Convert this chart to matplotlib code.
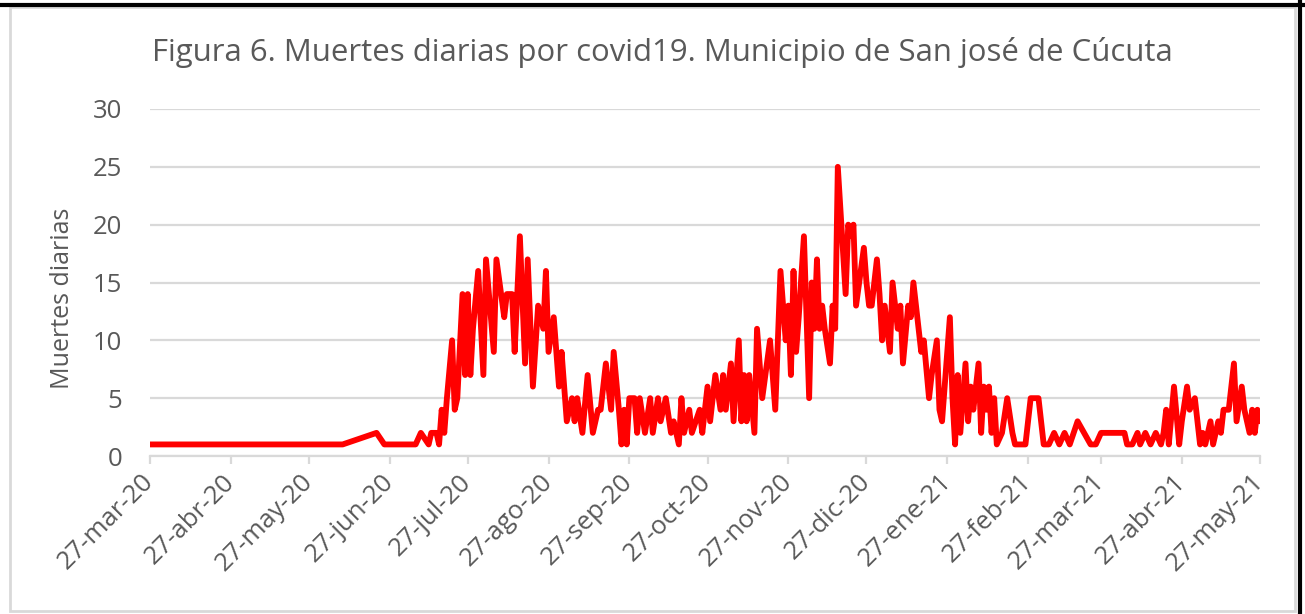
import numpy as np
import matplotlib
matplotlib.use('Agg')
import matplotlib.pyplot as plt
from matplotlib.patches import Rectangle
from matplotlib.lines import Line2D

# datos: dias desde 27-mar-20 y muertes diarias
start = np.datetime64('2020-03-27')
day_offsets = [0, 74, 87, 90, 102, 104, 107, 108, 110, 111, 112, 113, 114, 116, 117, 118,
               120, 121, 122, 123, 124, 126, 128, 129, 132, 133, 136, 137, 139, 140, 142,
               144, 145, 147, 149, 151, 152, 153, 155, 157, 158, 160, 162, 163, 164, 166,
               168, 170, 172, 173, 175, 177, 178, 180, 181, 182, 183, 184, 186, 187, 188,
               190, 192, 193, 195, 196, 198, 200, 201, 203, 204, 205, 207, 208, 211, 212,
               214, 215, 217, 219, 220, 221, 223, 224, 226, 227, 228, 229, 230, 232, 233,
               235, 238, 240, 242, 244, 245, 246, 247, 248, 249, 251, 253, 254, 255, 256,
               257, 258, 259, 261, 262, 263, 264, 267, 268, 269, 270, 271, 274, 275, 276,
               277, 279, 280, 281, 282, 284, 285, 287, 288, 289, 291, 292, 293, 294, 296,
               297, 299, 300, 302, 303, 304, 307, 308, 309, 310, 311, 313, 314, 315, 316,
               318, 319, 320, 321, 322, 323, 324, 325, 327, 329, 331, 332, 336, 338, 341,
               343, 345, 347, 349, 351, 353, 356, 361, 363, 365, 374, 375, 377, 379, 380,
               382, 384, 386, 388, 389, 390, 391, 393, 395, 396, 398, 399, 401, 402, 403,
               404, 405, 407, 408, 410, 411, 412, 414, 416, 417, 419, 420, 422, 423, 424,
               425, 426]
deaths = [1, 1, 2, 1, 1, 2, 1, 2, 2, 1, 4, 2, 5, 10, 4, 5,
          14, 7, 14, 7, 11, 16, 7, 17, 9, 17, 12, 14, 14, 9, 19,
          8, 17, 6, 13, 11, 16, 9, 12, 6, 9, 3, 5, 3, 5, 2,
          7, 2, 4, 4, 8, 4, 9, 4, 1, 4, 1, 5, 5, 2, 5,
          2, 5, 2, 5, 3, 5, 2, 3, 1, 5, 2, 4, 2, 4, 2,
          6, 3, 7, 4, 7, 4, 8, 3, 10, 3, 7, 3, 7, 2, 11,
          5, 10, 4, 16, 10, 13, 7, 16, 9, 12, 19, 5, 15, 11, 17,
          11, 13, 11, 8, 13, 11, 25, 14, 20, 19, 20, 13, 18, 15, 13,
          13, 17, 14, 10, 13, 9, 15, 11, 13, 8, 13, 12, 15, 13, 9,
          10, 5, 7, 10, 4, 3, 12, 5, 1, 7, 2, 8, 3, 6, 4,
          8, 2, 6, 4, 6, 2, 5, 1, 2, 5, 2, 1, 1, 5, 5,
          1, 1, 2, 1, 2, 1, 3, 1, 1, 2, 2, 1, 1, 2, 1,
          2, 1, 2, 1, 2, 4, 1, 6, 1, 3, 6, 4, 5, 3, 1,
          2, 1, 3, 1, 3, 2, 4, 4, 8, 3, 6, 4, 2, 4, 2,
          4, 3]
dates = start + np.array(day_offsets).astype('timedelta64[D]')

tick_dates = ['2020-03-27', '2020-04-27', '2020-05-27', '2020-06-27', '2020-07-27',
              '2020-08-27', '2020-09-27', '2020-10-27', '2020-11-27', '2020-12-27',
              '2021-01-27', '2021-02-27', '2021-03-27', '2021-04-27', '2021-05-27']
tick_labels = ['27-mar-20', '27-abr-20', '27-may-20', '27-jun-20', '27-jul-20',
               '27-ago-20', '27-sep-20', '27-oct-20', '27-nov-20', '27-dic-20',
               '27-ene-21', '27-feb-21', '27-mar-21', '27-abr-21', '27-may-21']
y_ticks = [0, 5, 10, 15, 20, 25, 30]

W, H = 1305, 614
plt.rcParams['font.family'] = ['Open Sans', 'DejaVu Sans']
txt = '#595959'
grid = '#d9d9d9'

fig = plt.figure(figsize=(W / 100, H / 100), dpi=100)
ax = fig.add_axes([149.8 / W, (H - 456) / H, (1260 - 149.8) / W, (456 - 109) / H])

ax.plot(dates, deaths, color='#ff0000', lw=4.2, solid_joinstyle='round', solid_capstyle='round')

ax.set_ylim(0, 30)
ax.set_yticks(y_ticks)
ax.set_xlim(np.datetime64('2020-03-27'), np.datetime64('2021-05-27'))
ax.set_xticks(np.array(tick_dates, dtype='datetime64[D]'))
ax.set_xticklabels(tick_labels, rotation=45, ha='right', va='center', rotation_mode='anchor')

ax.grid(axis='y', color=grid, lw=1.6)
ax.set_axisbelow(True)
for s in ['top', 'right', 'left']:
    ax.spines[s].set_visible(False)
ax.spines['bottom'].set_color(grid)
ax.spines['bottom'].set_linewidth(1.6)
ax.tick_params(axis='y', length=0, pad=20, labelsize=18.5, labelcolor=txt)
ax.tick_params(axis='x', length=6, width=1.6, color=grid, pad=10, labelsize=18.5, labelcolor=txt)

ax.set_ylabel('Muertes diarias', fontsize=18, color=txt)
ax.yaxis.set_label_coords(-0.067, 0.455)
fig.text(662 / W, 1 - 53 / H, 'Figura 6. Muertes diarias por covid19. Municipio de San josé de Cúcuta',
         fontsize=22.4, color=txt, ha='center', va='center')

# borde del grafico y lineas negras del recorte
fig.add_artist(Rectangle((10 / W, 1 - 611 / H), (1295 - 10) / W, (611 - 7) / H,
                         transform=fig.transFigure, fill=False, ec=grid, lw=2))
fig.add_artist(Line2D([0, 1], [1 - 5 / H, 1 - 5 / H], transform=fig.transFigure, color='black', lw=3))
fig.add_artist(Line2D([1300 / W, 1300 / W], [0, 1], transform=fig.transFigure, color='black', lw=3))

fig.savefig('out.png', dpi=100)
